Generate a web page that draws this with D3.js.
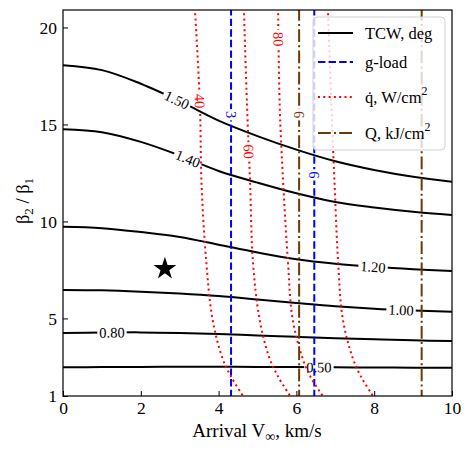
<!DOCTYPE html>
<html>
<head>
<meta charset="utf-8">
<script src="https://cdn.jsdelivr.net/npm/d3@7"></script>
<style>
  body { margin: 0; background: #fff; }
  svg text { font-family: "Liberation Serif", "Times New Roman", "DejaVu Serif", serif; }
</style>
</head>
<body>
<svg width="470" height="454"></svg>
<script>
// TCW contours, beta2/beta1 vs arrival V_inf
const vInf = [0, 1, 2, 3, 4, 5, 6, 7, 8, 9, 10];
const tcwLevels = ["1.50", "1.40", "1.20", "1.00", "0.80", "0.50"];
const tcwRatio = [
  [18.05, 17.8, 17.1, 16.2, 15.2, 14.4, 13.7, 13.1, 12.65, 12.3, 12.05],
  [14.75, 14.6, 14.1, 13.4, 12.6, 12.0, 11.45, 11.0, 10.72, 10.5, 10.33],
  [9.72, 9.65, 9.45, 9.2, 8.8, 8.4, 8.05, 7.82, 7.66, 7.54, 7.45],
  [6.47, 6.45, 6.38, 6.28, 6.15, 5.98, 5.8, 5.63, 5.5, 5.41, 5.34],
  [4.25, 4.27, 4.28, 4.25, 4.2, 4.12, 4.05, 3.98, 3.92, 3.87, 3.83],
  [2.48, 2.49, 2.5, 2.51, 2.51, 2.5, 2.49, 2.48, 2.47, 2.46, 2.45]
];
const tcwLabelAt = [2.93, 3.21, 7.97, 8.69, 1.26, 6.58];

// heat rate contours, V_inf vs ratio
const qdotRatio = [21, 16, 12, 8, 5, 3, 2, 1];
const qdotLevels = ["40", "60", "80", "100"];
const qdotV = [
  [3.39, 3.52, 3.56, 3.68, 3.84, 4.09, 4.32, 4.63],
  [4.65, 4.73, 4.81, 4.88, 5.05, 5.3, 5.53, 5.84],
  [5.53, 5.57, 5.66, 5.78, 5.9, 6.15, 6.36, 6.68],
  [6.81, 6.9, 6.98, 7.07, 7.19, 7.44, 7.66, 7.97]
];
const qdotLabelAt = [16.2, 13.6, 19.4, null];

const gLevels = ["3", "6"];
const gV = [4.32, 6.46];
const gLabelAt = [15.5, 12.4];

const heatLevels = ["6", "9"];
const heatV = [6.07, 9.22];
const heatLabelAt = [15.5, null];

const star = [2.62, 7.56];

const FONT = "Liberation Serif";
const svg = d3.select("svg");
const x = d3.scaleLinear([0, 10], [63, 452]);
const y = d3.scaleLinear([1, 20.9], [396, 10]);

const defs = svg.append("defs");
defs.append("clipPath").attr("id", "plot")
  .append("rect").attr("x", 63).attr("y", 10).attr("width", 389).attr("height", 386);

const plot = svg.append("g").attr("clip-path", "url(#plot)");

const styles = {
  tcw: { color: "#000", dash: null, width: 2 },
  g: { color: "#0000ff", dash: "7.4,3.2", width: 2 },
  qdot: { color: "#ff0000", dash: "2,3.3", width: 2 },
  heat: { color: "#6b3a06", dash: "12.8,3.2,2,3.2", width: 2 }
};

let maskId = 0;
const line = d3.line().x(d => x(d[0])).y(d => y(d[1])).curve(d3.curveCatmullRom);

// draw a contour line, with an inline label cut out of it
function contour(points, st, label, at, horizontal) {
  const g = plot.append("g");
  const path = g.append("path")
    .attr("d", line(points))
    .attr("fill", "none")
    .attr("stroke", st.color)
    .attr("stroke-width", st.width)
    .attr("stroke-dasharray", st.dash);
  if (at == null) return;
  const node = path.node();
  const total = node.getTotalLength();
  const target = horizontal ? x(at) : y(at);
  let lo = 0, hi = total;
  for (let i = 0; i < 40; i++) {
    const mid = (lo + hi) / 2;
    const p = node.getPointAtLength(mid);
    if ((horizontal ? p.x : p.y) < target) lo = mid; else hi = mid;
  }
  const p = node.getPointAtLength(lo);
  const a = node.getPointAtLength(Math.max(lo - 3, 0));
  const b = node.getPointAtLength(Math.min(lo + 3, total));
  const ang = Math.atan2(b.y - a.y, b.x - a.x) * 180 / Math.PI;
  const t = g.append("text")
    .attr("transform", `translate(${p.x},${p.y}) rotate(${ang})`)
    .attr("text-anchor", "middle")
    .attr("dy", "0.35em")
    .attr("font-family", FONT)
    .attr("font-size", 14.5)
    .attr("fill", st.color)
    .text(label);
  const w = t.node().getComputedTextLength() + 4;
  const id = "m" + (maskId++);
  const m = defs.append("mask").attr("id", id)
    .attr("maskUnits", "userSpaceOnUse")
    .attr("x", 0).attr("y", 0).attr("width", 470).attr("height", 454);
  m.append("rect").attr("width", 470).attr("height", 454).attr("fill", "#fff");
  m.append("rect")
    .attr("x", -w / 2).attr("y", -7).attr("width", w).attr("height", 14)
    .attr("transform", `translate(${p.x},${p.y}) rotate(${ang})`)
    .attr("fill", "#000");
  path.attr("mask", `url(#${id})`);
}

tcwRatio.forEach((r, i) => {
  contour(vInf.map((v, j) => [v, r[j]]), styles.tcw, tcwLevels[i], tcwLabelAt[i], true);
});
gV.forEach((v, i) => {
  contour([[v, 21], [v, 1]], styles.g, gLevels[i], gLabelAt[i], false);
});
qdotV.forEach((vs, i) => {
  contour(vs.map((v, j) => [v, qdotRatio[j]]), styles.qdot, qdotLevels[i], qdotLabelAt[i], false);
});
heatV.forEach((v, i) => {
  contour([[v, 21], [v, 1]], styles.heat, heatLevels[i], heatLabelAt[i], false);
});

plot.append("path")
  .attr("transform", `translate(${x(star[0])},${y(star[1])})`)
  .attr("d", d3.symbol(d3.symbolStar, 162)())
  .attr("fill", "#000");

// axes
const xAxis = svg.append("g").attr("transform", "translate(0,396)")
  .call(d3.axisBottom(x).tickValues([0, 2, 4, 6, 8, 10]).tickSize(-5).tickSizeOuter(0).tickPadding(6));
const yAxis = svg.append("g").attr("transform", "translate(63,0)")
  .call(d3.axisLeft(y).tickValues([1, 5, 10, 15, 20]).tickSize(-5).tickSizeOuter(0).tickPadding(6));
[xAxis, yAxis].forEach(ax => {
  ax.attr("font-family", FONT).attr("font-size", 17.5);
  ax.select(".domain").remove();
  ax.selectAll("text").attr("fill", "#000");
  ax.selectAll("line").attr("stroke", "#000");
});

svg.append("rect").attr("x", 63).attr("y", 10).attr("width", 389).attr("height", 386)
  .attr("fill", "none").attr("stroke", "#000").attr("stroke-width", 1.2);

// axis titles
const xt = svg.append("text").attr("x", 257).attr("y", 437).attr("text-anchor", "middle")
  .attr("font-family", FONT).attr("font-size", 19);
xt.append("tspan").text("Arrival V");
xt.append("tspan").attr("font-size", 14).attr("dy", 4).text("\u221e");
xt.append("tspan").attr("dy", -4).text(", km/s");

const yt = svg.append("text").attr("transform", "translate(29,201) rotate(-90)")
  .attr("text-anchor", "middle").attr("font-family", FONT).attr("font-size", 18.5);
yt.append("tspan").text("\u03b2");
yt.append("tspan").attr("font-size", 13).attr("dy", 4).text("2");
yt.append("tspan").attr("dy", -4).text(" / \u03b2");
yt.append("tspan").attr("font-size", 13).attr("dy", 4).text("1");

// legend
const legendItems = [
  { style: styles.tcw, text: "TCW, deg", sup: null },
  { style: styles.g, text: "g-load", sup: null },
  { style: styles.qdot, text: "q\u0307, W/cm", sup: "2" },
  { style: styles.heat, text: "Q, kJ/cm", sup: "2" }
];
const legendY = [33, 62, 97, 133];
const lg = svg.append("g");
lg.append("rect").attr("x", 313).attr("y", 17).attr("width", 132).attr("height", 133)
  .attr("rx", 4).attr("fill", "#fff").attr("fill-opacity", 0.8)
  .attr("stroke", "#d0d0d0").attr("stroke-width", 1);
legendItems.forEach((d, i) => {
  lg.append("line").attr("x1", 318).attr("x2", 353).attr("y1", legendY[i]).attr("y2", legendY[i])
    .attr("stroke", d.style.color).attr("stroke-width", d.style.width)
    .attr("stroke-dasharray", d.style.dash);
  const t = lg.append("text").attr("x", 365).attr("y", legendY[i] + 6)
    .attr("font-family", FONT).attr("font-size", 16.5);
  t.append("tspan").text(d.text);
  if (d.sup) t.append("tspan").attr("font-size", 12).attr("dy", -8).text(d.sup);
});
</script>
</body>
</html>
